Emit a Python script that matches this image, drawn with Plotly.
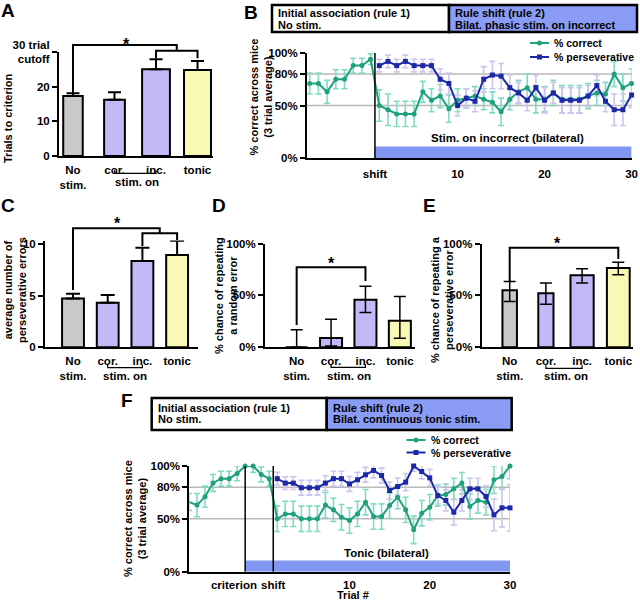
import plotly.graph_objects as go

W, H = 640, 600
def PX(x): return x / W
def PY(y): return 1 - y / H

FONT = "Liberation Sans, Arial, Helvetica, sans-serif"
def f(size=11.5, color="black"):
    return dict(family=FONT, size=size, color=color, weight="bold")

# ---------------- data ----------------
bar_groups = ["No<br>stim.", "cor.", "inc.", "tonic"]
bar_colors = ["#c9c9c9", "#c4b8f6", "#c4b8f6", "#f9f8b4"]

a_trials = [17.3, 16.2, 25.0, 24.8]
a_err = [0.8, 2.2, 2.9, 2.6]

c_persev_errors = [4.74, 4.32, 8.36, 8.94]
c_err = [0.46, 0.74, 1.29, 1.39]

d_repeat_random = [0.0, 9.0, 45.8, 25.5]
d_err_up = [16.8, 18.0, 12.9, 23.5]
d_err_down = [0.0, 7.7, 12.3, 16.8]

e_repeat_persev = [55.0, 52.0, 69.4, 76.5]
e_err_up = [8.5, 10.0, 6.2, 5.5]
e_err_down = [10.8, 10.5, 7.4, 6.5]

# Panel B (phasic stim on incorrect)
b_trials_pre = [-7, -6, -5, -4, -3, -2, -1, 0]
b_trials_post = list(range(1, 31))
b_correct_pre = [71, 71, 63, 75, 75, 88, 88, 94]
b_correct_post = [50, 46, 42, 42, 42, 63, 55, 59, 47, 55, 57, 59, 56, 53, 44,
                  56, 63, 67, 56, 56, 62, 56, 56, 56, 59, 62, 61, 80, 67, 71]
b_correct_err_pre = [10, 10, 11, 9, 9, 7, 7, 5]
b_correct_err_post = [15, 15, 12, 12, 12, 10, 11, 11, 13, 11, 9, 9, 10, 10, 13,
                      10, 11, 13, 13, 12, 12, 13, 13, 13, 12, 12, 11, 12, 13, 14]
b_persev = [88, 92, 88, 92, 88, 88, 88, 75, 71, 50, 57, 54, 75, 79, 78,
            67, 62, 55, 67, 55, 62, 55, 55, 55, 59, 69, 54, 46, 46, 60]
b_persev_err = [6, 6, 6, 6, 6, 6, 6, 10, 10, 10, 9, 10, 12, 13, 12,
                12, 10, 10, 12, 12, 10, 12, 12, 12, 10, 10, 10, 15, 15, 12]

# Panel F (tonic stim)
f_trials_pre = [-10, -9, -8, -7, -6, -5, -4, -3, -2, -1, 0]
f_trials_post = list(range(1, 31))
f_correct_pre = [66, 63, 71, 84, 88, 88, 93, 100, 100, 92, 88]
f_correct_post = [50, 54.7, 54.7, 50, 50, 50, 63, 58.5, 51.6, 48.4, 54.7, 65.8, 52.2, 52.2, 62.6,
                  70.5, 58.5, 39.6, 55.4, 61, 72, 73, 78.4, 83.8, 61.7, 67.4, 65.8, 87, 90, 100]
f_correct_err_pre = [8, 11, 10, 8, 7, 7, 7, 0, 6, 7, 7]
f_correct_err_post = [12, 12, 12, 12, 12, 12, 12, 11, 12, 12, 12, 12, 12, 12, 12,
                      11, 12, 13, 12, 12, 10, 10, 10, 10, 12, 12, 12, 13, 12, 12]
f_persev = [88, 83.8, 83.8, 79.4, 79.4, 79.4, 83.8, 88, 88, 83, 87, 91.7, 95.8, 91, 76.8,
            80.6, 84.7, 100, 94.8, 88.8, 72, 67.4, 56.3, 67.4, 78.4, 78.4, 71.2, 53.8, 60.4, 60.4]
f_persev_err = [6, 6, 6, 7, 7, 7, 7, 7, 7, 7, 7, 7, 7, 7, 8,
                8, 8, 5, 7, 8, 8, 10, 12, 10, 10, 10, 10, 15, 18, 22]

pct_ticks = [0, 50, 80, 100]
pct_ticks_bar = [0, 50, 100]

GREEN = "#1fa27b"
GREEN_ERR = "#7fdcc3"
BLUE = "#1d28a8"
BLUE_ERR = "#cbc5ef"
STIM = "#8096f1"
HEADER = "#8a9cf5"

fig = go.Figure()

# ---------------- bar panels ----------------
def add_bars(xa, ya, vals, up, down, widths, cap, thick):
    fig.add_trace(go.Bar(
        x=[0, 1, 2, 3], y=vals, width=widths,
        marker=dict(color=bar_colors, line=dict(color="black", width=2)),
        error_y=dict(type="data", array=up, arrayminus=down, symmetric=False,
                     color="black", thickness=thick, width=cap),
        xaxis=xa, yaxis=ya, showlegend=False, hoverinfo="skip"))

add_bars("x", "y", a_trials, a_err, [0, 0, 0, 0], [0.47, 0.5, 0.67, 0.65], 6.5, 2)
add_bars("x3", "y3", c_persev_errors, c_err, [0, 0, 0, 0], [0.63] * 4, 7, 2)
add_bars("x4", "y4", d_repeat_random, d_err_up, d_err_down, [0.64] * 4, 6, 1.5)
add_bars("x5", "y5", e_repeat_persev, e_err_up, e_err_down, [0.4, 0.42, 0.64, 0.63], 6, 1.5)

# ---------------- line panels ----------------
def add_lines(xa, ya, xc, yc, ec, xp, yp, ep):
    fig.add_trace(go.Scatter(x=xc, y=yc, mode="markers", marker=dict(size=1, color="rgba(0,0,0,0)"),
                             error_y=dict(type="data", array=ec, color=GREEN_ERR, thickness=1.6, width=3),
                             xaxis=xa, yaxis=ya, showlegend=False, hoverinfo="skip", cliponaxis=False))
    fig.add_trace(go.Scatter(x=xp, y=yp, mode="markers", marker=dict(size=1, color="rgba(0,0,0,0)"),
                             error_y=dict(type="data", array=ep, color=BLUE_ERR, thickness=1.6, width=3),
                             xaxis=xa, yaxis=ya, showlegend=False, hoverinfo="skip", cliponaxis=False))
    fig.add_trace(go.Scatter(x=xc, y=yc, mode="lines+markers",
                             line=dict(color=GREEN, width=2), marker=dict(size=5, color=GREEN, symbol="circle"),
                             xaxis=xa, yaxis=ya, showlegend=False, cliponaxis=False))
    fig.add_trace(go.Scatter(x=xp, y=yp, mode="lines+markers",
                             line=dict(color=BLUE, width=2), marker=dict(size=5, color=BLUE, symbol="square"),
                             xaxis=xa, yaxis=ya, showlegend=False, cliponaxis=False))

add_lines("x2", "y2", b_trials_pre + b_trials_post, b_correct_pre + b_correct_post,
          b_correct_err_pre + b_correct_err_post, b_trials_post, b_persev, b_persev_err)
add_lines("x6", "y6", f_trials_pre + f_trials_post, f_correct_pre + f_correct_post,
          f_correct_err_pre + f_correct_err_post, f_trials_post, f_persev, f_persev_err)

# ---------------- axes ----------------
def xdom(a, b): return [PX(a), PX(b)]
def ydom(bottom, top): return [PY(bottom), PY(top)]

common_x = dict(showline=True, linewidth=2, linecolor="black", showgrid=False, zeroline=False,
                ticks="", tickfont=f(11.5), fixedrange=True, automargin=False)
common_y = dict(showline=True, linewidth=2, linecolor="black", showgrid=False, zeroline=False,
                ticks="outside", ticklen=5, tickwidth=2, tickcolor="black", tickfont=f(11.5),
                fixedrange=True, automargin=False)

bar_x = dict(common_x, tickvals=[0, 1, 2, 3], ticktext=bar_groups, ticklabelstandoff=2)

layout = dict(
    width=W, height=H, margin=dict(l=0, r=0, t=0, b=0, pad=0, autoexpand=False),
    paper_bgcolor="white", plot_bgcolor="white", showlegend=False,
    font=dict(family=FONT, color="black"),
    xaxis=dict(bar_x, domain=xdom(59, 213), range=[-0.337, 3.373], anchor="y"),
    yaxis=dict(common_y, domain=ydom(156, 52), range=[0, 30], anchor="x",
               tickvals=[0, 10, 20, 30], ticktext=["0", "10", "20", "30 trial<br>cutoff"]),
    xaxis2=dict(common_x, domain=xdom(307, 631.6), range=[-7.31, 30], anchor="y2",
                tickvals=[0.5, 10, 20, 30], ticktext=["shift", "10", "20", "30"], ticklabelstandoff=4),
    yaxis2=dict(common_y, domain=ydom(158, 53), range=[0, 100], anchor="x2",
                tickvals=pct_ticks, ticktext=[f"{v}%" for v in pct_ticks]),
    xaxis3=dict(bar_x, domain=xdom(45, 198), range=[-0.807, 3.602], anchor="y3"),
    yaxis3=dict(common_y, domain=ydom(347.3, 240.5), range=[0, 10.35], anchor="x3",
                tickvals=[0, 5, 10]),
    xaxis4=dict(bar_x, domain=xdom(265, 415), range=[-0.92, 3.44], anchor="y4"),
    yaxis4=dict(common_y, domain=ydom(347.3, 243.5), range=[0, 100], anchor="x4",
                tickvals=pct_ticks_bar, ticktext=[f"{v}%" for v in pct_ticks_bar]),
    xaxis5=dict(bar_x, domain=xdom(481.7, 633), range=[-0.773, 3.406], anchor="y5"),
    yaxis5=dict(common_y, domain=ydom(347.3, 243.5), range=[0, 100], anchor="x5",
                tickvals=pct_ticks_bar, ticktext=[f"{v}%" for v in pct_ticks_bar]),
    xaxis6=dict(common_x, domain=xdom(189.3, 510), range=[-9.96, 30], anchor="y6",
                tickvals=[-4.4, 0.5, 10, 20, 30], ticktext=["criterion", "shift", "10", "20", "30"],
                ticklabelstandoff=1),
    yaxis6=dict(common_y, domain=ydom(571.7, 466), range=[0, 100], anchor="x6",
                tickvals=pct_ticks, ticktext=[f"{v}%" for v in pct_ticks]),
)
fig.update_layout(**layout)

shapes = []
ann = []

def text(x, y, s, size=11.5, xanchor="center", yanchor="middle", angle=0, align="center"):
    ann.append(dict(x=PX(x), y=PY(y), xref="paper", yref="paper", text=s, showarrow=False,
                    font=f(size), xanchor=xanchor, yanchor=yanchor, textangle=angle, align=align))

def path(xref, pts_x, pts_y, width=2, color="black"):
    d = "M " + " L ".join(f"{x},{PY(y)}" for x, y in zip(pts_x, pts_y))
    shapes.append(dict(type="path", xref=xref, yref="paper", path=d,
                       line=dict(color=color, width=width)))

# panel letters
for L, x, y in [("A", 8, 11), ("B", 251, 12), ("C", 8, 206), ("D", 219, 206), ("E", 429, 206), ("F", 127, 400)]:
    text(x, y, L, size=19)

# ---- significance brackets ----
path("x", [0, 0, 2.5, 2.5], [95, 45, 45, 50.7])
path("x", [2, 2, 3, 3], [58.3, 50.7, 50.7, 58.3])
text(126.7, 44, "*", size=16)
path("x3", [0, 0, 2.5, 2.5], [290, 228.3, 228.3, 233.3])
path("x3", [2, 2, 3, 3], [246, 233.3, 233.3, 240])
text(117, 224, "*", size=16)
path("x4", [0, 0, 2, 2], [325, 267.3, 267.3, 281])
text(331.7, 264, "*", size=16)
path("x5", [0, 0, 3, 3], [281, 247.7, 247.7, 259])
text(557.7, 243.5, "*", size=16)

# ---- "stim. on" brackets ----
for xa, ybr, ytx, xc in [("x", 173.3, 181.7, 137), ("x3", 367.7, 376, 125),
                         ("x4", 367.3, 376, 349), ("x5", 368.3, 375.5, 566)]:
    path(xa, [1, 1, 2, 2], [ybr - 3, ybr, ybr, ybr - 3], width=1.2)
    text(xc, ytx, "stim. on")

# ---- axis titles ----
text(8, 118, "Trials to criterion", size=11, angle=-90)
text(260.5, 97, "% correct across mice<br>(3 trial average)", size=11, angle=-90)
text(15, 290, "average number of<br>perseverative errors", size=11, angle=-90)
text(226, 296, "% chance of repeating<br>a random error", size=11, angle=-90)
text(442, 300, "% chance of repeating a<br>perseverative error", size=11, angle=-90)
text(135, 519, "% correct across mice<br>(3 trial average)", size=11, angle=-90)
text(353.3, 594.5, "Trial #", size=11)

# ---- line panel decorations ----
for xa, ya in [("x2", "y2"), ("x6", "y6")]:
    for g in [50, 80]:
        shapes.append(dict(type="line", xref=f"{xa} domain", yref=ya, x0=0, x1=1, y0=g, y1=g,
                           line=dict(color="#b9b9b9", width=1.5), layer="below"))
shapes.append(dict(type="rect", xref="x2", yref="y2", x0=0.5, x1=30, y0=0, y1=11,
                   fillcolor=STIM, line=dict(width=0), layer="below"))
shapes.append(dict(type="rect", xref="x6", yref="y6", x0=-3, x1=30, y0=0, y1=10.5,
                   fillcolor=STIM, line=dict(width=0), layer="below"))
for xa, ya, xv in [("x2", "y2", 0.5), ("x6", "y6", -3), ("x6", "y6", 0.5)]:
    shapes.append(dict(type="line", xref=xa, yref=ya, x0=xv, x1=xv, y0=0, y1=100,
                       line=dict(color="black", width=1.5)))
ann.append(dict(x=15.7, y=19, xref="x2", yref="y2", text="Stim. on incorrect (bilateral)",
                showarrow=False, font=f(11.5)))
ann.append(dict(x=14.6, y=18, xref="x6", yref="y6", text="Tonic (bilateral)",
                showarrow=False, font=f(11.5)))

# ---- header boxes ----
def header(x0, xm, x1, y0, y1, l1, l2, r1, r2, ty1, ty2):
    shapes.append(dict(type="rect", xref="paper", yref="paper", x0=PX(x0), x1=PX(xm), y0=PY(y1), y1=PY(y0),
                       fillcolor="white", line=dict(color="black", width=2.5)))
    shapes.append(dict(type="rect", xref="paper", yref="paper", x0=PX(xm), x1=PX(x1), y0=PY(y1), y1=PY(y0),
                       fillcolor=HEADER, line=dict(color="black", width=2.5)))
    text(x0 + 4, ty1, l1, size=11, xanchor="left")
    text(x0 + 4, ty2, l2, size=11, xanchor="left")
    text(xm + 4, ty1, r1, size=11, xanchor="left")
    text(xm + 4, ty2, r2, size=11, xanchor="left")

header(272, 449, 637, 5, 32, "Initial association (rule 1)", "No stim.",
       "Rule shift (rule 2)", "Bilat. phasic stim. on incorrect", 12.7, 25)
header(151.7, 326.7, 511.7, 398, 430, "Initial association (rule 1)", "No stim.",
       "Rule shift (rule 2)", "Bilat. continuous tonic stim.", 408, 419)

# ---- manual legends ----
def legend(x0, y_c, y_p):
    for yy, col, sym, lab in [(y_c, GREEN, "circle", "% correct"), (y_p, BLUE, "rect", "% perseverative")]:
        shapes.append(dict(type="line", xref="paper", yref="paper", x0=PX(x0), x1=PX(x0 + 19),
                           y0=PY(yy), y1=PY(yy), line=dict(color=col, width=2)))
        shapes.append(dict(type=sym, xref="paper", yref="paper", x0=PX(x0 + 7), x1=PX(x0 + 12),
                           y0=PY(yy + 2.5), y1=PY(yy - 2.5), fillcolor=col, line=dict(color=col, width=0)))
        text(x0 + 22, yy, lab, size=10.5, xanchor="left")

legend(530, 43, 57)
legend(406.5, 440, 452.5)

fig.update_layout(shapes=shapes, annotations=ann)
fig.write_html("out.html", config={"displayModeBar": False},
               post_script="document.body.style.margin='0px';"
                           "document.documentElement.style.overflow='hidden';"
                           "document.body.style.overflow='hidden';")
